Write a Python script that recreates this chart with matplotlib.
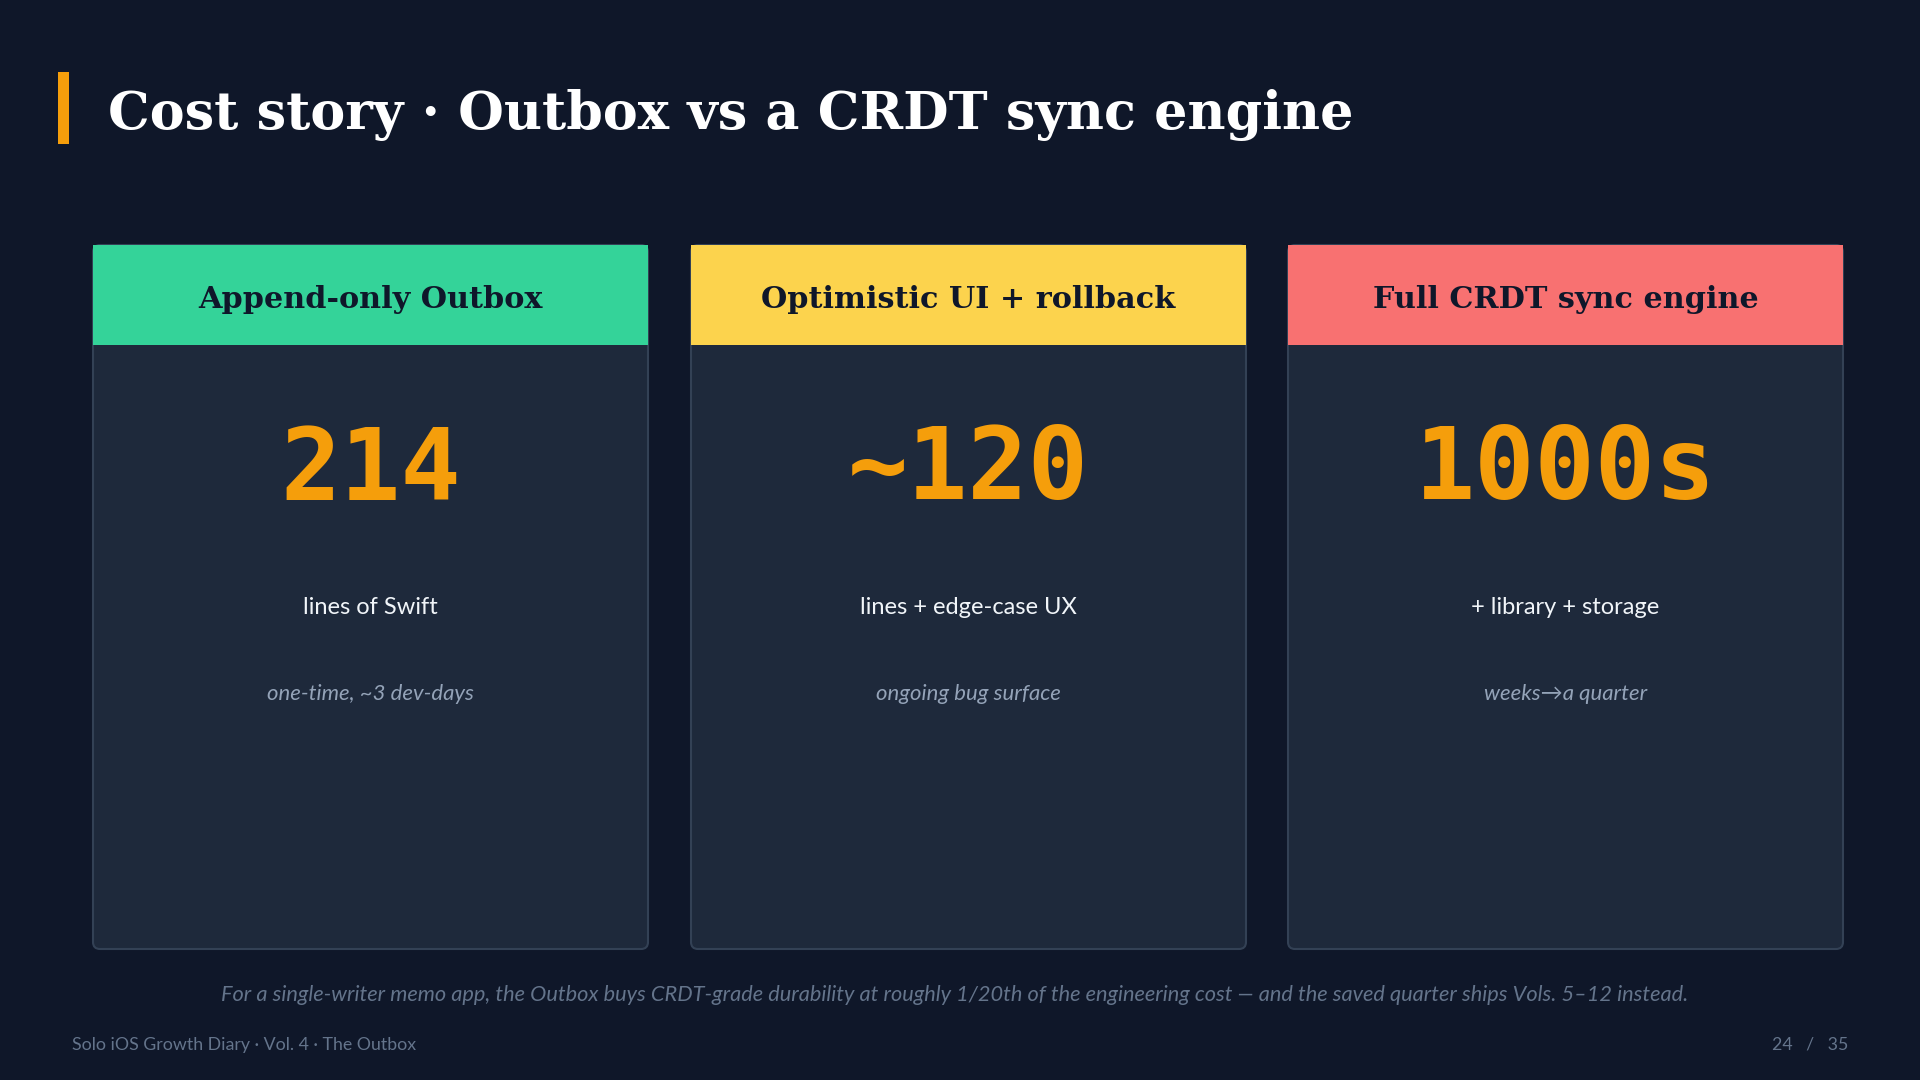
import matplotlib
matplotlib.use("Agg")
import matplotlib.pyplot as plt
from matplotlib.patches import FancyBboxPatch, Rectangle

# slide content
title = "Cost story \u00b7 Outbox vs a CRDT sync engine"
card_titles = ["Append-only Outbox", "Optimistic UI + rollback", "Full CRDT sync engine"]
card_numbers = ["214", "~120", "1000s"]
card_units = ["lines of Swift", "lines + edge-case UX", "+ library + storage"]
card_notes = ["one-time, ~3 dev-days", "ongoing bug surface", "weeks\u2192a quarter"]
header_colors = ["#34d399", "#fcd34d", "#f87171"]
caption = ("For a single-writer memo app, the Outbox buys CRDT-grade durability at roughly "
           "1/20th of the engineering cost \u2014 and the saved quarter ships Vols. 5\u201312 instead.")
footer_left = "Solo iOS Growth Diary \u00b7 Vol. 4 \u00b7 The Outbox"
footer_right = "24   /   35"

BG = "#0f1729"
CARD = "#1e293b"
EDGE = "#334155"
ORANGE = "#f59e0b"
SANS = ["Lato", "DejaVu Sans"]

fig = plt.figure(figsize=(19.2, 10.8), dpi=100)
fig.patch.set_facecolor(BG)
ax = fig.add_axes([0, 0, 1, 1])
ax.set_xlim(0, 1920)
ax.set_ylim(1080, 0)
ax.axis("off")

# title with accent bar
ax.add_patch(Rectangle((58, 72), 11, 72, color=ORANGE, lw=0))
ax.text(108, 115, title, color="white", fontsize=37.7, fontweight="bold",
        family="DejaVu Serif", va="center", ha="left")

card_x = [93, 691, 1288]
card_w = 555
top, head_bot, bottom = 245, 345, 949

for i in range(len(card_titles)):
    x0 = card_x[i]
    cx = x0 + card_w / 2
    body = FancyBboxPatch((x0, top), card_w, bottom - top,
                          boxstyle="round,pad=0,rounding_size=7",
                          fc=CARD, ec=EDGE, lw=1.5)
    ax.add_patch(body)
    ax.add_patch(Rectangle((x0, top), card_w, head_bot - top,
                           fc=header_colors[i], ec="none"))
    ax.text(cx, 299.5, card_titles[i], color="#0f172a", fontsize=21.8,
            fontweight="bold", family="DejaVu Serif", ha="center", va="center")
    ax.text(cx, 472, card_numbers[i], color=ORANGE, fontsize=72,
            fontweight="bold", family="DejaVu Sans Mono", ha="center", va="center")
    ax.text(cx, 607, card_units[i], color="#f1f5f9", fontsize=17,
            family=SANS, ha="center", va="center")
    ax.text(cx, 694, card_notes[i], color="#94a3b8", fontsize=15.9,
            family=SANS, style="italic", ha="center", va="center")

ax.text(955, 995, caption, color="#64748b", fontsize=15.7, family=SANS,
        style="italic", ha="center", va="center")
ax.text(72, 1045, footer_left, color="#64748b", fontsize=12.8, family=SANS,
        ha="left", va="center")
ax.text(1848, 1045, footer_right, color="#64748b", fontsize=12.8, family=SANS,
        ha="right", va="center")

fig.savefig("out.png", dpi=100, facecolor=BG)
